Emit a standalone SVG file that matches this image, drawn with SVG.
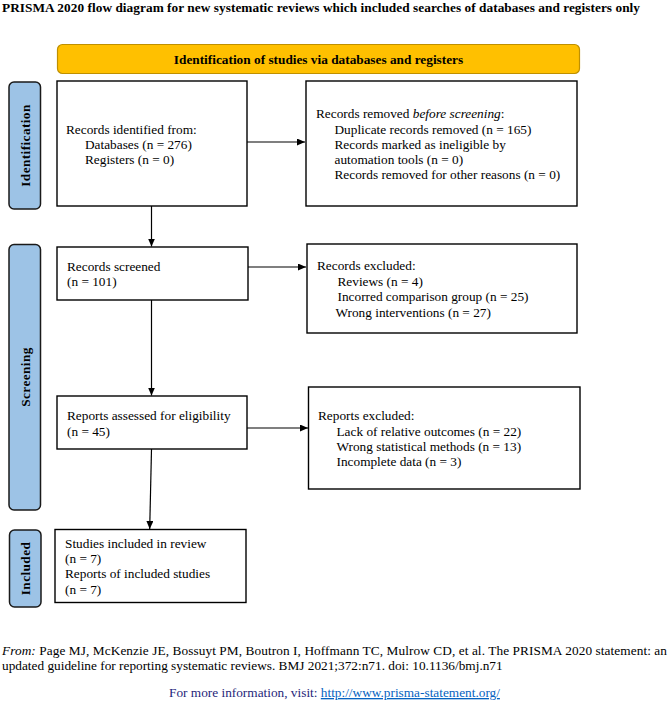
<svg xmlns="http://www.w3.org/2000/svg" width="669" height="706" viewBox="0 0 669 706">
<style>
text{font-family:"Liberation Serif","Times New Roman",serif;font-size:13.3px;fill:#000}
.b{font-weight:bold}
.box{fill:#fff;stroke:#000;stroke-width:1.4}
.lab{fill:#9DC3E6;stroke:#1a1a1a;stroke-width:1.5}
.lt{font-weight:bold;font-size:13.3px;text-anchor:middle;letter-spacing:0.4px}
.con{stroke:#000;stroke-width:1.2;fill:none;marker-end:url(#ah)}
</style>
<defs>
<marker id="ah" markerUnits="userSpaceOnUse" markerWidth="9" markerHeight="8" refX="8" refY="3.5" orient="auto">
<path d="M0,0 L8,3.5 L0,7 z" fill="#000"/>
</marker>
</defs>
<rect width="669" height="706" fill="#fff"/>
<text id="title" class="b" x="2" y="12" textLength="638" lengthAdjust="spacing">PRISMA 2020 flow diagram for new systematic reviews which included searches of databases and registers only</text>

<g id="banner">
<rect x="57.5" y="44.5" width="522" height="29" rx="5" fill="#FFC000" stroke="#BF9000" stroke-width="1.2"/>
<text class="b" x="318.5" y="64" text-anchor="middle">Identification of studies via databases and registers</text>
</g>

<g id="lab-identification">
<rect class="lab" x="9" y="82" width="31.5" height="127" rx="5"/>
<text class="lt" transform="translate(29.5,145.5) rotate(-90)">Identification</text>
</g>
<g id="lab-screening">
<rect class="lab" x="9" y="244.5" width="31.5" height="265.5" rx="5"/>
<text class="lt" transform="translate(29.5,377) rotate(-90)">Screening</text>
</g>
<g id="lab-included">
<rect class="lab" x="9.5" y="530" width="31.5" height="77" rx="5"/>
<text class="lt" transform="translate(30,568.5) rotate(-90)">Included</text>
</g>

<g id="identified">
<rect class="box" x="57" y="81" width="190" height="125"/>
<text x="66" y="133.5">Records identified from:</text>
<text x="85" y="148.5">Databases (n = 276)</text>
<text x="85" y="164">Registers (n = 0)</text>
</g>

<g id="removed">
<rect class="box" x="306" y="81" width="271" height="125"/>
<text x="316" y="117.5">Records removed <tspan font-style="italic">before screening</tspan>:</text>
<text x="334.5" y="133.5">Duplicate records removed  (n = 165)</text>
<text x="334.5" y="148.5">Records marked as ineligible by</text>
<text x="334.5" y="163.5">automation tools (n = 0)</text>
<text x="334.5" y="179">Records removed for other reasons (n = 0)</text>
</g>

<g id="screened">
<rect class="box" x="57" y="247" width="191" height="53"/>
<text x="67" y="271">Records screened</text>
<text x="67" y="286">(n = 101)</text>
</g>

<g id="excluded">
<rect class="box" x="307" y="244" width="270" height="89"/>
<text x="317" y="270">Records excluded:</text>
<text x="337.5" y="286">Reviews (n = 4)</text>
<text x="337.5" y="301">Incorred comparison group (n = 25)</text>
<text x="335.5" y="316.5">Wrong interventions (n = 27)</text>
</g>

<g id="assessed">
<rect class="box" x="57" y="396" width="190" height="53"/>
<text x="67" y="419.5">Reports assessed for eligibility</text>
<text x="67" y="436">(n = 45)</text>
</g>

<g id="reports-excluded">
<rect class="box" x="308.5" y="387" width="271.5" height="102"/>
<text x="318" y="419.5">Reports excluded:</text>
<text x="336.5" y="436">Lack of relative outcomes (n = 22)</text>
<text x="336.5" y="451">Wrong statistical methods (n = 13)</text>
<text x="336.5" y="466">Incomplete data (n = 3)</text>
</g>

<g id="included">
<rect class="box" x="55" y="529.5" width="191" height="73"/>
<text x="65" y="547.5">Studies included in review</text>
<text x="65" y="563">(n = 7)</text>
<text x="65" y="578">Reports of included studies</text>
<text x="65" y="594">(n = 7)</text>
</g>

<g id="connectors">
<path class="con" d="M247,142 L305,142"/>
<path class="con" d="M151.5,206 L151.5,246.5"/>
<path class="con" d="M248,267 L306,267"/>
<path class="con" d="M151.5,300 L151.5,395.5"/>
<path class="con" d="M247,428 L308,428"/>
<path class="con" d="M151.5,449 L149.7,529"/>
</g>

<g id="footer">
<text x="2" y="655" textLength="665" lengthAdjust="spacing"><tspan font-style="italic">From:</tspan>  Page MJ, McKenzie JE, Bossuyt PM, Boutron I, Hoffmann TC, Mulrow CD, et al. The PRISMA 2020 statement: an</text>
<text x="2" y="670">updated guideline for reporting systematic reviews. BMJ 2021;372:n71. doi: 10.1136/bmj.n71</text>
<text x="169" y="697" style="fill:#1F1F7A">For more information, visit: <tspan style="fill:#0563C1;text-decoration:underline">http://www.prisma-statement.org/</tspan></text>
</g>
</svg>
